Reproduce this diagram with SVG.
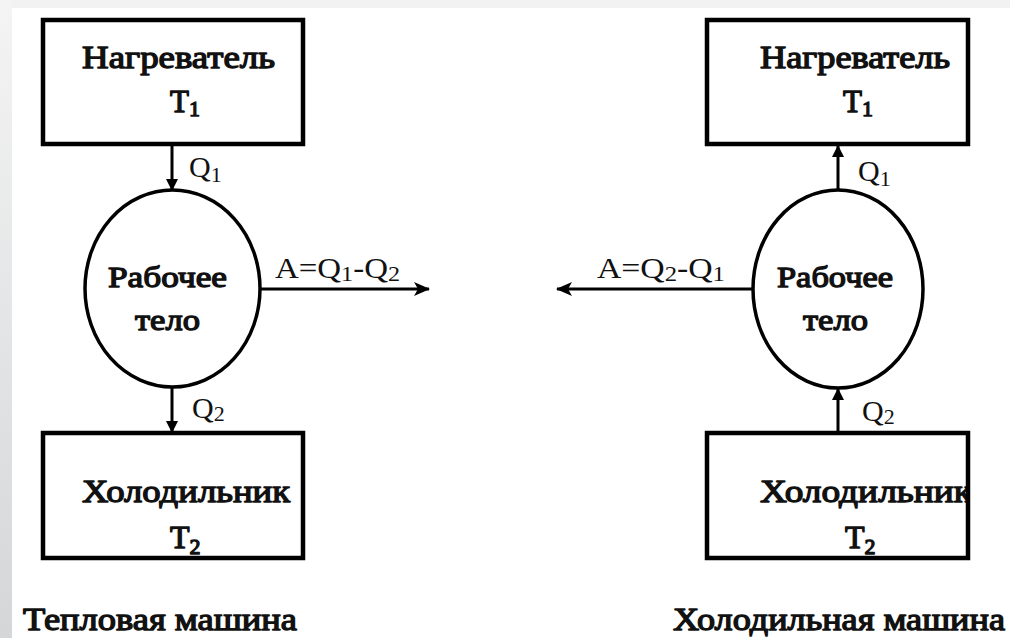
<svg xmlns="http://www.w3.org/2000/svg" width="1010" height="638" viewBox="0 0 1010 638">
<style>
.box{fill:none;stroke:#000;stroke-width:4.5}
.body{fill:none;stroke:#000;stroke-width:3.5}
.t{fill:#111;font-family:'Liberation Serif',serif}
.b{stroke:#111;stroke-width:1.3;stroke-linejoin:round}
.lbl{font-size:30px}
.cn{stroke:#000;stroke-width:3;fill:none}
</style>
<defs>
<linearGradient id="side" x1="0" y1="0" x2="0" y2="1">
<stop offset="0" stop-color="#f4f4f4"/>
<stop offset="1" stop-color="#d4d6d8"/>
</linearGradient>
<marker id="ah" viewBox="0 0 12 12" refX="11" refY="6" markerWidth="12" markerHeight="12" markerUnits="userSpaceOnUse" orient="auto">
<path d="M0,0 L12,6 L0,12 Z" fill="#000"/>
</marker>
<marker id="ahw" viewBox="0 0 16 14" refX="15" refY="7" markerWidth="16" markerHeight="14" markerUnits="userSpaceOnUse" orient="auto">
<path d="M0,0 L16,7 L0,14 L4,7 Z" fill="#000"/>
</marker>
<clipPath id="clipR"><rect x="707" y="433" width="259" height="125"/></clipPath>
</defs>
<rect width="1010" height="638" fill="#fff"/>
<rect x="0" y="0" width="1010" height="8" fill="#f2f2f2"/>
<rect x="0" y="0" width="12" height="638" fill="url(#side)"/>

<g id="connectors" font-family="Liberation Serif, serif">
<line class="cn" x1="172" y1="144" x2="172" y2="190" marker-end="url(#ah)"/>
<line class="cn" x1="172" y1="387" x2="172" y2="432" marker-end="url(#ah)"/>
<line class="cn" x1="260" y1="289" x2="429" y2="289" marker-end="url(#ahw)"/>
<line class="cn" x1="838" y1="190" x2="838" y2="146" marker-end="url(#ah)"/>
<line class="cn" x1="838" y1="433" x2="838" y2="389" marker-end="url(#ah)"/>
<line class="cn" x1="753" y1="289" x2="557" y2="289" marker-end="url(#ahw)"/>
<text class="t lbl" x="189" y="177">Q<tspan font-size="22" dy="5">1</tspan></text>
<text class="t lbl" x="192" y="418">Q<tspan font-size="22" dy="3">2</tspan></text>
<text class="t lbl" x="275" y="278" textLength="125" lengthAdjust="spacingAndGlyphs">A=Q<tspan font-size="22" dy="3">1</tspan><tspan dy="-3">-Q</tspan><tspan font-size="22" dy="3">2</tspan></text>
<text class="t lbl" x="858" y="181">Q<tspan font-size="22" dy="5">1</tspan></text>
<text class="t lbl" x="862" y="421">Q<tspan font-size="22" dy="3">2</tspan></text>
<text class="t lbl" x="597" y="278" textLength="128" lengthAdjust="spacingAndGlyphs">A=Q<tspan font-size="22" dy="3">2</tspan><tspan dy="-3">-Q</tspan><tspan font-size="22" dy="3">1</tspan></text>
</g>

<g id="heater-left">
<rect class="box" x="43" y="20" width="260" height="124"/>
<text class="t b" font-size="31" x="82" y="68" textLength="193" lengthAdjust="spacingAndGlyphs">Нагреватель</text>
<text class="t b" font-size="31" x="170" y="112">T<tspan font-size="22" dy="4">1</tspan></text>
</g>
<g id="body-left">
<ellipse class="body" cx="172.5" cy="288.5" rx="87.5" ry="98.5"/>
<text class="t b" font-size="30" x="108" y="287" textLength="119" lengthAdjust="spacingAndGlyphs">Рабочее</text>
<text class="t b" font-size="30" x="135" y="330" textLength="65" lengthAdjust="spacingAndGlyphs">тело</text>
</g>
<g id="cooler-left">
<rect class="box" x="43" y="433" width="260" height="125"/>
<text class="t b" font-size="32" x="82" y="502" textLength="208" lengthAdjust="spacingAndGlyphs">Холодильник</text>
<text class="t b" font-size="32" x="170" y="548">T<tspan font-size="22" dy="6">2</tspan></text>
</g>
<g id="title-left">
<text class="t b" font-size="31" x="23" y="630" textLength="274" lengthAdjust="spacingAndGlyphs">Тепловая машина</text>
</g>

<g id="heater-right">
<rect class="box" x="707" y="20" width="261" height="124"/>
<text class="t b" font-size="31" x="760" y="68" textLength="190" lengthAdjust="spacingAndGlyphs">Нагреватель</text>
<text class="t b" font-size="31" x="843" y="112">T<tspan font-size="22" dy="4">1</tspan></text>
</g>
<g id="body-right">
<ellipse class="body" cx="838" cy="289" rx="85" ry="99"/>
<text class="t b" font-size="30" x="777" y="287" textLength="116" lengthAdjust="spacingAndGlyphs">Рабочее</text>
<text class="t b" font-size="30" x="803" y="330" textLength="65" lengthAdjust="spacingAndGlyphs">тело</text>
</g>
<g id="cooler-right">
<rect class="box" x="707" y="433" width="261" height="125"/>
<text class="t b" font-size="32" x="760" y="502" textLength="212" lengthAdjust="spacingAndGlyphs" clip-path="url(#clipR)">Холодильник</text>
<text class="t b" font-size="32" x="845" y="548">T<tspan font-size="22" dy="6">2</tspan></text>
</g>
<g id="title-right">
<text class="t b" font-size="31" x="673" y="630" textLength="332" lengthAdjust="spacingAndGlyphs">Холодильная машина</text>
</g>
</svg>
